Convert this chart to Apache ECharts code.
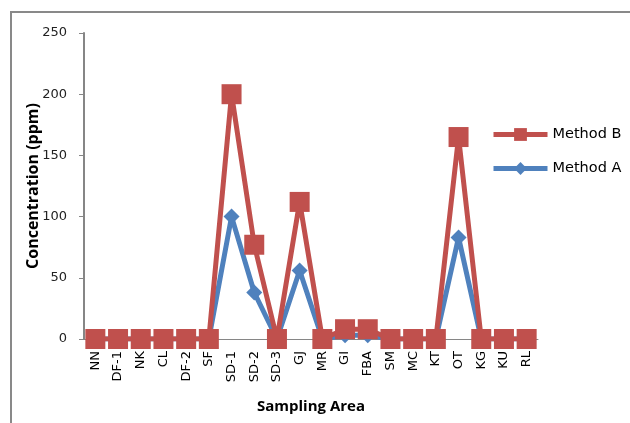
<!DOCTYPE html>
<html><head><meta charset="utf-8">
<script src="https://cdn.jsdelivr.net/npm/echarts@6/dist/echarts.min.js"></script>
<style>html,body{margin:0;padding:0;background:#fff}#c{width:630px;height:423px}</style>
</head><body><div id="c"></div>
<script>
const categories = ['NN','DF-1','NK','CL','DF-2','SF','SD-1','SD-2','SD-3','GJ','MR','GI','FBA','SM','MC','KT','OT','KG','KU','RL'];
const methodB = [0,0,0,0,0,0,200,77,0,112,0,8,8,0,0,0,165,0,0,0];
const methodA = [0,0,0,0,0,0,100,38,0,56,0,3,3,0,0,0,83,0,0,0];
const yTicks = [0,50,100,150,200,250];

const chart = echarts.init(document.getElementById('c'));
chart.setOption({
  animation:false,
  backgroundColor:'#fff',
  graphic:[{type:'rect',shape:{x:11,y:12,width:700,height:500},style:{fill:'none',stroke:'#898989',lineWidth:2},silent:true}],
  grid:{left:84,right:92,top:33,bottom:84},
  legend:{
    orient:'vertical',left:486,top:122,itemGap:19,itemWidth:54,itemHeight:16,
    data:['Method B','Method A'],
    lineStyle:{width:5},
    textStyle:{fontFamily:'DejaVu Sans',fontSize:14.5,color:'#000'}
  },
  xAxis:{
    type:'category',data:categories,boundaryGap:true,
    axisLine:{lineStyle:{color:'#868686',width:1}},
    axisTick:{show:false},
    axisLabel:{rotate:90,fontFamily:'DejaVu Sans',fontSize:13,color:'#000',margin:12,interval:0},
    name:'Sampling Area',nameLocation:'middle',nameGap:60,
    nameTextStyle:{fontFamily:'Open Sans',fontWeight:'bold',fontSize:15,color:'#000'}
  },
  yAxis:{
    type:'value',min:0,max:250,interval:50,
    axisLine:{show:true,lineStyle:{color:'#868686',width:2}},
    axisTick:{show:true,length:5,lineStyle:{color:'#868686'}},
    splitLine:{show:false},
    axisLabel:{fontFamily:'DejaVu Sans',fontSize:13,color:'#222',margin:17,
      formatter:v=>yTicks.includes(v)?String(v):''},
    name:'Concentration (ppm)',nameLocation:'middle',nameGap:43,nameMoveOverlap:false,
    nameTextStyle:{fontFamily:'Open Sans',fontWeight:'bold',fontSize:16,color:'#000'}
  },
  series:[
    {name:'Method A',type:'line',data:methodA,symbol:'diamond',symbolSize:16,
      lineStyle:{color:'#4F81BD',width:5},itemStyle:{color:'#4F81BD'},z:2},
    {name:'Method B',type:'line',data:methodB,symbol:'rect',symbolSize:20,
      lineStyle:{color:'#C0504D',width:5},itemStyle:{color:'#C0504D'},z:3}
  ]
});
</script></body></html>
